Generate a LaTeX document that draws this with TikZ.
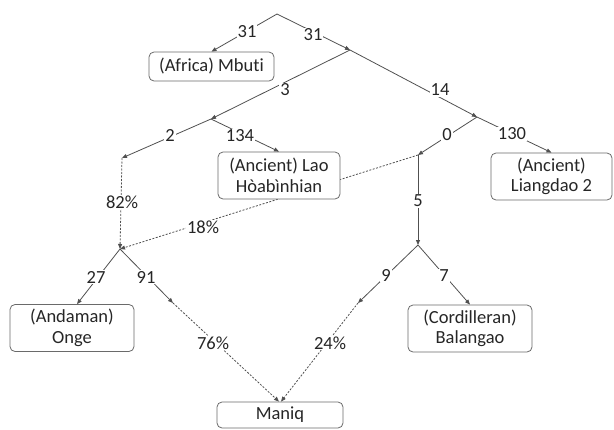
\documentclass[tikz,border=0pt]{standalone}
\usepackage{fontspec}
\setmainfont{Carlito}[Ligatures={NoCommon,TeX}]
\usetikzlibrary{arrows.meta}
\definecolor{ln}{HTML}{505050}
\definecolor{tx}{HTML}{262626}
\definecolor{bx}{HTML}{6A6A6A}
\begin{document}
\begin{tikzpicture}[x=1pt,y=-1pt,
  every node/.style={font=\fontsize{18.5}{20.5}\selectfont, text=tx},
  box/.style={draw=bx, line width=0.8pt, rounded corners=5pt, fill=white, align=center, inner sep=0pt},
  lbl/.style={fill=white, inner sep=1pt},
  con/.style={draw=ln, line width=0.8pt, -{Triangle[length=5pt,width=4pt]}},
  dsh/.style={con, dash pattern=on 2pt off 1.5pt}]
\useasboundingbox (0,0) rectangle (614,429);
% junctions
\coordinate (root) at (277,14);
\coordinate (a) at (350,50);
\coordinate (b) at (211,119);
\coordinate (c) at (122,158);
\coordinate (d) at (477,117);
\coordinate (e) at (418,155);
\coordinate (f) at (418,245);
\coordinate (g) at (120,249);
\coordinate (h) at (173,303);
\coordinate (i) at (358,303);
% boxes (positions)
\path (211.5,66.5) coordinate (pm) (279,175.5) coordinate (pl) (551.5,176.5) coordinate (pg)
      (72,328) coordinate (po) (470,328.5) coordinate (pb) (280,415) coordinate (pq);
% dashed first
\draw[dsh] (e) -- (g);
% boxes
\node[box, minimum width=125pt, minimum height=29pt] (mbuti) at (pm) {(Africa) Mbuti};
\node[box, minimum width=122pt, minimum height=47pt] (lao) at (pl) {(Ancient) Lao\\Hòabìnhian};
\node[box, minimum width=121pt, minimum height=47pt] (liang) at (pg) {(Ancient)\\Liangdao 2};
\node[box, minimum width=124pt, minimum height=47pt] (onge) at (po) {(Andaman)\\Onge};
\node[box, minimum width=124pt, minimum height=47pt] (bal) at (pb) {(Cordilleran)\\Balangao};
\node[box, minimum width=126pt, minimum height=26pt] (maniq) at (pq) {Maniq};
% connectors
\draw[con] (root) -- (mbuti.north);
\draw[con] (root) -- (a);
\draw[con] (a) -- (b);
\draw[con] (b) -- (c);
\draw[con] (b) -- (lao.north);
\draw[con] (a) -- (d);
\draw[con] (d) -- (e);
\draw[con] (d) -- (liang.north);
\draw[con] (e) -- (f);
\draw[dsh] (c) -- (g);
\draw[con] (g) -- ([xshift=5pt]onge.north);
\draw[con] (g) -- (h);
\draw[con] (f) -- (i);
\draw[con] (f) -- (bal.north);
\draw[dsh] (h) -- ([xshift=-1pt]maniq.north);
\draw[dsh] (i) -- ([xshift=1pt]maniq.north);
% labels
\node[lbl] (l1) at (247,32) {31};
\node[lbl] (l2) at (313,35) {31};
\node[lbl] (l3) at (285,90) {3};
\node[lbl] (l4) at (440,90) {14};
\node[lbl] (l5) at (170,135) {2};
\node[lbl] (l6) at (240,136) {134};
\node[lbl] (l7) at (447,135) {0};
\node[lbl] (l8) at (512,134) {130};
\node[lbl] (l9) at (122,202) {82\%};
\node[lbl] (l10) at (203,227) {18\%};
\node[lbl] (l11) at (418,201) {5};
\node[lbl] (l12) at (96,277) {27};
\node[lbl] (l13) at (146,277) {91};
\node[lbl] (l14) at (386,275) {9};
\node[lbl] (l15) at (444,276) {7};
\node[lbl] (l16) at (213,343) {76\%};
\node[lbl] (l17) at (330,343) {24\%};
\end{tikzpicture}
\end{document}
